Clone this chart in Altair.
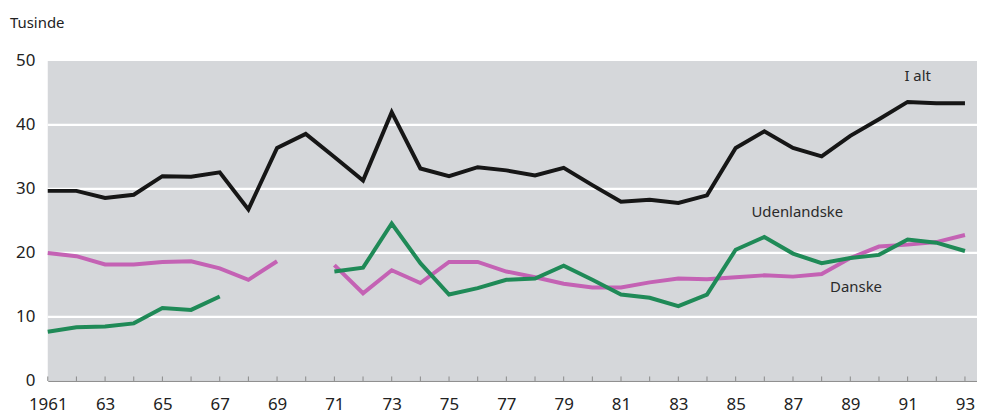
import altair as alt
import pandas as pd

years = list(range(1961, 1994))
i_alt = [29.7, 29.7, 28.6, 29.1, 32.0, 31.9, 32.6, 26.8, 36.4, 38.6,
         35.0, 31.3, 42.0, 33.2, 32.0, 33.4, 32.9, 32.1, 33.3, 30.6,
         28.0, 28.3, 27.8, 29.0, 36.4, 39.0, 36.4, 35.1, 38.3, 40.9,
         43.6, 43.4, 43.4]
danske = [20.0, 19.5, 18.2, 18.2, 18.6, 18.7, 17.6, 15.8, 18.7, None,
          18.1, 13.7, 17.3, 15.3, 18.6, 18.6, 17.1, 16.2, 15.2, 14.6,
          14.6, 15.4, 16.0, 15.9, 16.2, 16.5, 16.3, 16.7, 19.2, 21.0,
          21.3, 21.7, 22.8]
udenlandske = [7.7, 8.4, 8.5, 9.0, 11.4, 11.1, 13.2, None, None, None,
               17.1, 17.7, 24.6, 18.4, 13.5, 14.5, 15.8, 16.0, 18.0, 15.8,
               13.5, 13.0, 11.7, 13.5, 20.5, 22.5, 19.9, 18.4, 19.2, 19.7,
               22.1, 21.6, 20.3]

series_names = ["I alt", "Danske", "Udenlandske"]
series_vals = [i_alt, danske, udenlandske]
series_colors = ["#161616", "#c462b4", "#1f8a57"]

rows = []
for name, vals in zip(series_names, series_vals):
    seg = 0
    prev_none = False
    for y, v in zip(years, vals):
        if v is None:
            prev_none = True
            continue
        if prev_none:
            seg += 1
            prev_none = False
        rows.append({"year": y, "value": v, "series": name, "seg": f"{name}-{seg}"})
df = pd.DataFrame(rows)

label_text = ["I alt", "Udenlandske", "Danske"]
label_x = [1991.35, 1987.15, 1989.2]
label_y = [47.7, 26.4, 14.7]
labels = pd.DataFrame({"t": label_text, "x": label_x, "y": label_y})

FONT = "Noto Sans"
xscale = alt.Scale(domain=[1961, 1993.42], nice=False, zero=False)
yscale = alt.Scale(domain=[0, 50], nice=False)

x_axis = alt.Axis(
    values=years,
    labelExpr="datum.value % 2 == 1 ? (datum.value == 1961 ? '1961' : slice(toString(datum.value), 2)) : ''",
    grid=False, domain=True, domainColor="#8a8a8a", domainWidth=1,
    ticks=False, labelFontSize=17, labelColor="#222222", labelFont=FONT,
    labelPadding=16, labelFlush=False, labelOverlap=False, title=None,
)
y_axis = alt.Axis(
    values=[0, 10, 20, 30, 40, 50], grid=False, domain=False, ticks=False,
    labelFontSize=17, labelColor="#222222", labelFont=FONT, labelPadding=13,
    title=None,
)

grid_df = pd.DataFrame({"g": [10, 20, 30, 40]})
grid = alt.Chart(grid_df).mark_rule(color="white", strokeWidth=2.2).encode(
    y=alt.Y("g:Q", scale=yscale, axis=y_axis)
)

tick_df = pd.DataFrame({"year": years, "y0": [0] * len(years), "y1": [0.7] * len(years)})
ticks = alt.Chart(tick_df).mark_rule(color="#8a8a8a", strokeWidth=1).encode(
    x=alt.X("year:Q", scale=xscale, axis=x_axis),
    y=alt.Y("y0:Q", scale=yscale),
    y2="y1:Q",
)

lines = alt.Chart(df).mark_line(strokeWidth=4, strokeJoin="miter", strokeCap="butt").encode(
    x=alt.X("year:Q", scale=xscale),
    y=alt.Y("value:Q", scale=yscale),
    color=alt.Color("series:N", scale=alt.Scale(domain=series_names, range=series_colors), legend=None),
    detail="seg:N",
)

text = alt.Chart(labels).mark_text(font=FONT, fontSize=15, color="#2a2a2a", align="center", baseline="middle").encode(
    x=alt.X("x:Q", scale=xscale),
    y=alt.Y("y:Q", scale=yscale),
    text="t:N",
)

unit = alt.Chart(pd.DataFrame({"t": ["Tusinde"]})).mark_text(
    font=FONT, fontSize=15, color="#222222", align="left", baseline="middle"
).encode(x=alt.value(-38), y=alt.value(-38), text="t:N")

chart = alt.layer(grid, ticks, lines, text, unit).properties(
    width=935, height=322,
    autosize=alt.AutoSizeParams(type="none"),
    padding={"left": 40, "top": 52, "right": 0, "bottom": 35},
).configure(
    background="white",
    view=alt.ViewConfig(fill="#d5d7da", stroke=None),
)

chart.save("out.html", embed_options={"renderer": "svg", "actions": False})
